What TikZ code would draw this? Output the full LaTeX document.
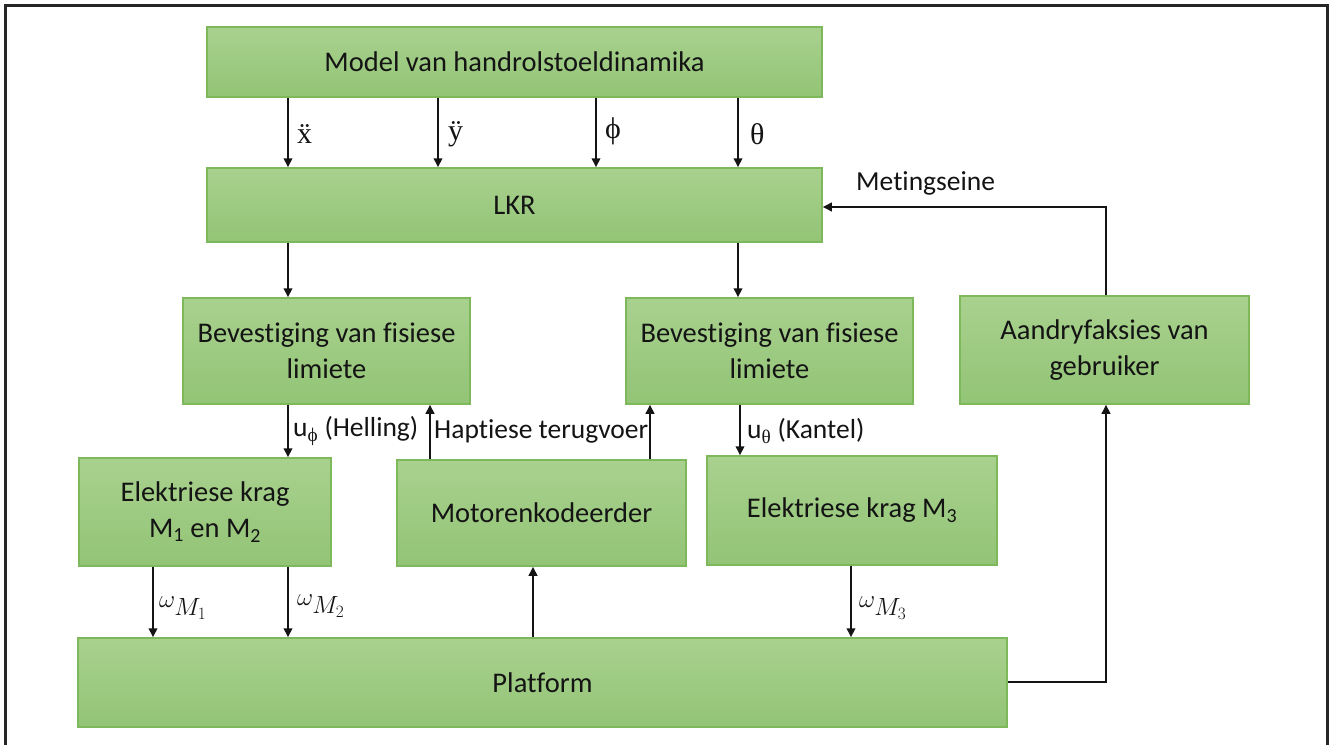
\documentclass[tikz,border=0pt]{standalone}
\usepackage{fontspec}
\setmainfont{Carlito}[Ligatures={NoCommon}]
\newfontfamily\symfont{Liberation Serif}
\usetikzlibrary{arrows.meta}
\definecolor{boxtop}{HTML}{A9D18E}
\definecolor{boxbot}{HTML}{92C476}
\definecolor{boxedge}{HTML}{7DB85B}
\definecolor{framegray}{HTML}{262626}
\definecolor{ink}{HTML}{141414}
\tikzset{
  blk/.style={draw=boxedge, line width=1.5pt, top color=boxtop, bottom color=boxbot,
    inner sep=0pt, align=center, text=ink, font=\fontsize{28.5}{36}\selectfont},
  arr/.style={line width=2pt, -{Triangle[length=9pt,width=8.5pt]}, ink},
  lbl/.style={anchor=west, inner sep=0pt, text=ink, font=\fontsize{27.5}{32}\selectfont},
  sym/.style={anchor=west, inner sep=0pt, text=ink, font=\symfont\fontsize{30}{32}\selectfont},
  mlbl/.style={anchor=west, inner sep=0pt, text=ink, font=\fontsize{33}{36}\selectfont},
}
\begin{document}
\begin{tikzpicture}[x=1pt, y=-1pt]
\useasboundingbox (0,0) rectangle (1335,744);
\fill[white] (0,0) rectangle (1335,744);
% outer frame (open at the bottom)
\draw[framegray, line width=3pt] (5,746) -- (5,5) -- (1327,5) -- (1327,746);

% blocks
\node[blk, minimum width=615pt, minimum height=70pt] (model) at (514.5,62) {Model van handrolstoeldinamika};
\node[blk, minimum width=615pt, minimum height=74pt] (lkr) at (514.5,205) {LKR};
\node[blk, minimum width=287pt, minimum height=106pt] (bev1) at (326.5,351) {Bevestiging van fisiese\\limiete};
\node[blk, minimum width=287pt, minimum height=106pt] (bev2) at (769.5,351) {Bevestiging van fisiese\\limiete};
\node[blk, minimum width=289pt, minimum height=108pt] (aand) at (1104.5,350) {Aandryfaksies van\\gebruiker};
\node[blk, minimum width=252pt, minimum height=108pt] (ek12) at (205,512) {Elektriese krag\\M\textsubscript{1} en M\textsubscript{2}};
\node[blk, minimum width=289pt, minimum height=106pt] (motor) at (541.5,513) {Motorenkodeerder};
\node[blk, minimum width=290pt, minimum height=109pt] (ek3) at (852,510.5) {Elektriese krag M\textsubscript{3}};
\node[blk, minimum width=929pt, minimum height=89pt] (plat) at (542.5,682.5) {Platform};

% model -> LKR
\draw[arr] (model.south -| 288,0) -- (lkr.north -| 288,0);
\draw[arr] (model.south -| 438,0) -- (lkr.north -| 438,0);
\draw[arr] (model.south -| 596,0) -- (lkr.north -| 596,0);
\draw[arr] (model.south -| 738,0) -- (lkr.north -| 738,0);
\node[sym] (lx) at (297,134) {ẍ};
\node[sym] (ly) at (448,134) {ÿ};
\node[sym] (lphi) at (605,131) {ϕ};
\node[sym] (lth) at (750,134) {θ};

% LKR -> limit blocks
\draw[arr] (lkr.south -| 288,0) -- (bev1.north -| 288,0);
\draw[arr] (lkr.south -| 738,0) -- (bev2.north -| 738,0);

% limit blocks -> motor drivers, haptic feedback
\draw[arr] (bev1.south -| 288,0) -- (ek12.north -| 288,0);
\node[lbl] (uphi) at (293,431) {u\textsubscript{\symfont ϕ} (Helling)};
\draw[arr] (motor.north -| 430,0) -- (bev1.south -| 430,0);
\node[lbl] (hapt) at (434,431) {Haptiese terugvoer};
\draw[arr] (motor.north -| 650,0) -- (bev2.south -| 650,0);
\draw[arr] (bev2.south -| 740,0) -- (ek3.north -| 740,0);
\node[lbl] (uth) at (747,431) {u\textsubscript{\symfont θ} (Kantel)};

% drivers -> platform
\draw[arr] (ek12.south -| 153,0) -- (plat.north -| 153,0);
\node[mlbl] (w1) at (159,608) {$\omega_{M_1}$};
\draw[arr] (ek12.south -| 288,0) -- (plat.north -| 288,0);
\node[mlbl] (w2) at (297,606) {$\omega_{M_2}$};
\draw[arr] (plat.north -| 533,0) -- (motor.south -| 533,0);
\draw[arr] (ek3.south -| 851,0) -- (plat.north -| 851,0);
\node[mlbl] (w3) at (859,608) {$\omega_{M_3}$};

% user loop
\coordinate (c1) at (1106,682);
\coordinate (c2) at (1106,207);
\draw[arr] (plat.east |- c1) -- (c1) -- (aand.south -| c1);
\draw[arr] (aand.north -| c2) -- (c2) -- (lkr.east |- c2);
\node[lbl] (meting) at (856,183) {Metingseine};
\end{tikzpicture}
\end{document}
